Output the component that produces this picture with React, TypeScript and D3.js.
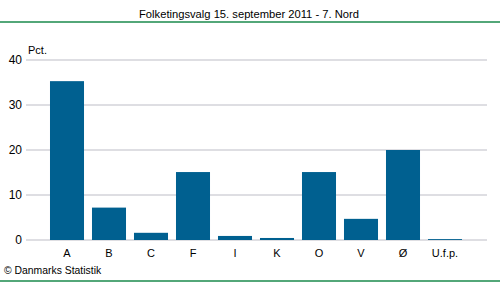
import React from "react";
import * as d3 from "d3";

const categories = ["A", "B", "C", "F", "I", "K", "O", "V", "Ø", "U.f.p."];
const values = [35.3, 7.2, 1.6, 15.1, 0.9, 0.45, 15.1, 4.7, 20.0, 0.2];
const yTicks = [0, 10, 20, 30, 40];
const title = "Folketingsvalg 15. september 2011 - 7. Nord";
const unitLabel = "Pct.";
const credit = "© Danmarks Statistik";

export default function App() {
  const W = 500, H = 282;
  const font = "'Liberation Sans', Arial, sans-serif";
  const y = d3.scaleLinear().domain([0, 40]).range([240, 60]);
  const x = d3.scaleBand().domain(categories).range([46, 466]).paddingInner(0.19).paddingOuter(0.095);
  return (
    <svg width={W} height={H} style={{ position: "absolute", left: 0, top: 0, background: "#fff" }}>
      <text x={249} y={18} textAnchor="middle" fontFamily={font} fontSize={11.2} fill="#000">{title}</text>
      <line x1={0} x2={W} y1={22} y2={22} stroke="#1a8a4c" strokeWidth={1.5} />
      {yTicks.map((t) => (
        <g key={t}>
          <line x1={26} x2={487} y1={y(t)} y2={y(t)} stroke="#bdbdc6" strokeWidth={1} />
          <text x={22} y={y(t) + 4} textAnchor="end" fontFamily={font} fontSize={12} fill="#000">{t}</text>
        </g>
      ))}
      <text x={28} y={54} fontFamily={font} fontSize={11} fill="#000">{unitLabel}</text>
      {categories.map((c, i) => (
        <rect key={c} x={x(c)} width={x.bandwidth()} y={y(values[i])} height={y(0) - y(values[i])} fill="#006090" />
      ))}
      {categories.map((c) => (
        <text key={c} x={(x(c) as number) + x.bandwidth() / 2} y={257} textAnchor="middle" fontFamily={font} fontSize={11} fill="#000">{c}</text>
      ))}
      <text x={4} y={274} fontFamily={font} fontSize={10.4} fill="#000">{credit}</text>
      <line x1={0} x2={W} y1={281} y2={281} stroke="#1a8a4c" strokeWidth={1.5} />
    </svg>
  );
}
